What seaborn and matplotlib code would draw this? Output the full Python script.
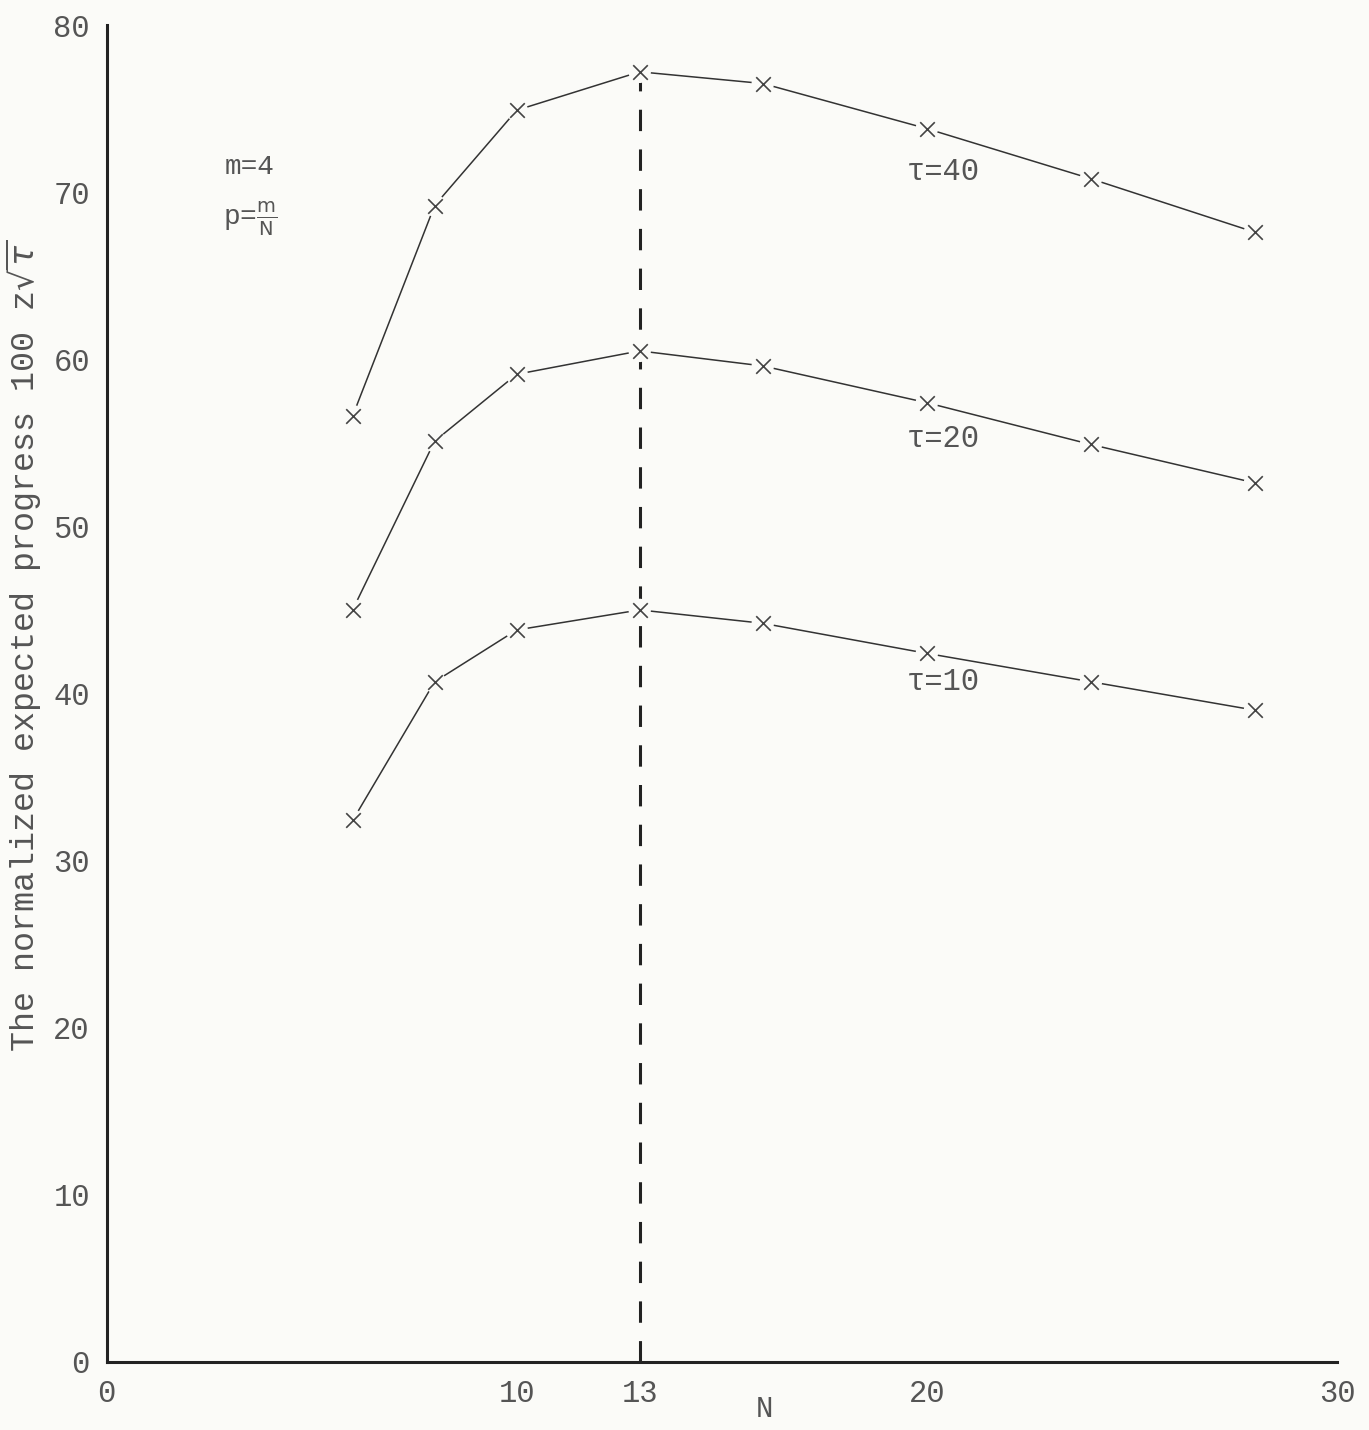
import numpy as np
import pandas as pd
import matplotlib
matplotlib.use('Agg')
import matplotlib.pyplot as plt
import seaborn as sns

# Data
n_values = [6, 8, 10, 13, 16, 20, 24, 28]
tau_40 = [56.6, 69.2, 74.9, 77.2, 76.5, 73.8, 70.8, 67.6]
tau_20 = [45.0, 55.1, 59.1, 60.5, 59.6, 57.4, 54.9, 52.6]
tau_10 = [32.4, 40.7, 43.8, 45.0, 44.2, 42.4, 40.7, 39.0]
tau_names = ['40', '20', '10']
x_ticks = [0, 10, 13, 20, 30]
y_ticks = [0, 10, 20, 30, 40, 50, 60, 70, 80]
optimum_n = 13

sns.set_style('white')
plt.rcParams['font.family'] = ['Liberation Mono', 'DejaVu Sans']
plt.rcParams['mathtext.fontset'] = 'dejavusans'

# tidy frame
df = pd.DataFrame({
    'N': n_values * 3,
    'value': tau_40 + tau_20 + tau_10,
    'tau': np.repeat(tau_names, len(n_values)),
})

bg = '#fbfbf8'
fig = plt.figure(figsize=(13.69, 14.30), dpi=100, facecolor=bg)
ax = fig.add_axes([0.0778, 0.0476, 0.8988, 0.9349])
ax.set_facecolor(bg)

# dashed line at the optimum
ax.vlines(optimum_n, 0, tau_40[n_values.index(optimum_n)], colors='#222',
          linestyles=(0, (7, 6)), linewidth=2.2, zorder=1)

sns.lineplot(data=df, x='N', y='value', hue='tau', palette=['#333'] * 3,
             linewidth=1.1, legend=False, ax=ax, zorder=2)
# white blobs break the curves around each point
sns.scatterplot(data=df, x='N', y='value', marker='o', s=260, color=bg,
                edgecolor='none', legend=False, ax=ax, zorder=3)
sns.scatterplot(data=df, x='N', y='value', marker='x', s=110, color='#444',
                linewidth=1.2, legend=False, ax=ax, zorder=4)

ax.set_xlim(0, 30)
ax.set_ylim(0, 80)
ax.set_xticks(x_ticks)
ax.set_yticks(y_ticks)
ax.tick_params(direction='in', length=13, width=1.2, color='#333',
               labelsize=22, labelcolor='#555', pad=12)
for s in ['top', 'right']:
    ax.spines[s].set_visible(False)
for s in ['left', 'bottom']:
    ax.spines[s].set_color('#222')
    ax.spines[s].set_linewidth(2.2)

ax.set_xlabel('N', fontsize=21, color='#555')
ax.xaxis.set_label_coords(0.535, -0.025)
ax.set_ylabel(r'The normalized expected progress 100 z$\sqrt{\tau}$',
              fontsize=24, color='#555')
ax.yaxis.set_label_coords(-0.052, 0.536)

# annotations
ax.text(3.5, 71.5, 'm=4', fontsize=20, color='#555', ha='center', va='center')
ax.text(3.5, 68.4, r'p=$\frac{\mathrm{m}}{\mathrm{N}}$', fontsize=20,
        color='#555', ha='center', va='center')
ax.text(20.4, 71.2, 'τ=40', fontsize=22, color='#555', ha='center', va='center')
ax.text(20.4, 55.2, 'τ=20', fontsize=22, color='#555', ha='center', va='center')
ax.text(20.4, 40.7, 'τ=10', fontsize=22, color='#555', ha='center', va='center')

fig.savefig('out.png', dpi=100, facecolor=bg)
